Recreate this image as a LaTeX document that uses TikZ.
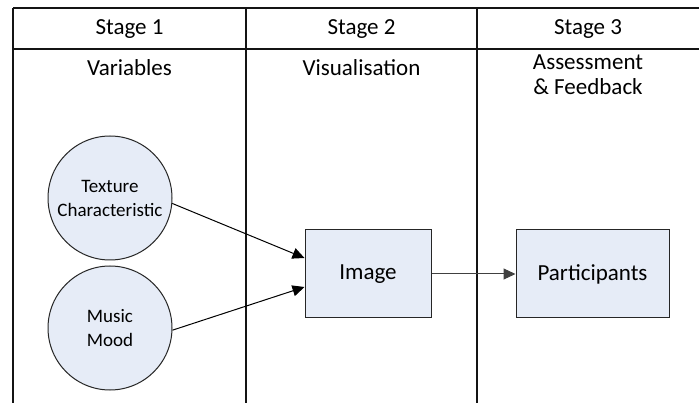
\documentclass[tikz,border=0pt]{standalone}
\usepackage{fontspec}
\setmainfont{Carlito}
\usetikzlibrary{arrows.meta}

\tikzset{
    head/.style={font=\fontsize{23}{25}\selectfont, align=center},
    var/.style={circle, draw=black!85, fill=myfill, line width=1pt, minimum size=124pt, inner sep=0pt,
        font=\fontsize{19}{24}\selectfont, align=center},
    box/.style={rectangle, draw=black!85, fill=myfill, line width=1pt, minimum width=126pt,
        minimum height=88pt, font=\fontsize{23}{25}\selectfont},
    flow/.style={-{Triangle[length=12pt,width=11pt]}, line width=1pt}
}

\begin{document}
\begin{tikzpicture}[x=1pt, y=-1pt]
    \definecolor{myfill}{RGB}{230,236,247}
    \definecolor{myline}{RGB}{20,20,20}
    \useasboundingbox (0,0) rectangle (699,403);

    % grid of the three stages
    \draw[myline, line width=1.2pt] (13,8) -- (699,8);
    \draw[myline, line width=1.2pt] (13,49) -- (699,49);
    \foreach \x in {13,246,477}
        \draw[myline, line width=1.2pt] (\x,8) -- (\x,403);

    \node[head] (s1) at (129.5,29) {Stage 1};
    \node[head] (s2) at (361.5,29) {Stage 2};
    \node[head] (s3) at (588,29) {Stage 3};

    \node[head] (var) at (129.5,68) {Variables};
    \node[head] (vis) at (361.5,68) {Visualisation};
    \node[head] (ass) at (588,75) {Assessment\\\& Feedback};

    % inputs, image and participants
    \node[var] (tex) at (110,198) {Texture\\Characteristic};
    \node[var] (mus) at (110,328) {Music\\Mood};
    \node[box] (img) at (368,274) {Image};
    \node[box, minimum width=153pt] (par) at (592.5,274) {Participants};

    \draw[flow] (tex.-5) -- ([yshift=16pt]img.west);
    \draw[flow] (mus.-2) -- ([yshift=-13pt]img.west);
    \draw[flow, black!75] (img) -- (par);
\end{tikzpicture}
\end{document}
